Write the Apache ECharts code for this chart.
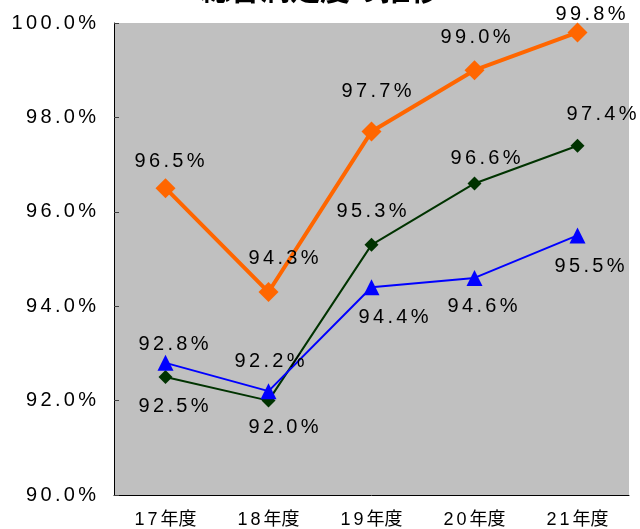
<!DOCTYPE html>
<html><head><meta charset="utf-8">
<script src="https://cdn.jsdelivr.net/npm/echarts@6/dist/echarts.min.js"></script>
<style>html,body{margin:0;padding:0;background:#fff;}#c{width:640px;height:529px;}</style>
</head><body><div id="c"></div>
<script>
var titleText = '総合満足度の推移';
var categories = ['17年度','18年度','19年度','20年度','21年度'];
var orangeValues = [96.5, 94.3, 97.7, 99.0, 99.8];
var greenValues = [92.5, 92.0, 95.3, 96.6, 97.4];
var blueValues = [92.8, 92.2, 94.4, 94.6, 95.5];
var yTicks = {min: 90, max: 100, interval: 2};

// label offsets (layout only)
var orangeOffsets = [[4,-27],[15,-34],[5,-40],[1,-33],[13,-18]];
var greenOffsets = [[8,29],[15,27],[0,-33],[11,-25],[24,-31]];
var blueOffsets = [[8,-18],[1,-30],[22,30],[8,29],[12,31]];

var SP = '\u2006';
function spaced(s){
  var out = '';
  for (var i=0;i<s.length;i++){
    out += s[i];
    if (i < s.length-1){
      var a = s.charCodeAt(i), b = s.charCodeAt(i+1);
      if (!(a > 0x2e80 && b > 0x2e80)) out += SP;
    }
  }
  return out;
}
var fontFam = '"Liberation Sans", Arial, "Noto Sans CJK JP", sans-serif';

function buildData(vals, offs){
  return vals.map(function(v,i){
    return {value: v, label: {offset: offs[i]}};
  });
}
function lbl(){
  return {show:true, position:'inside', align:'center', verticalAlign:'middle',
    color:'#000', fontSize:20, fontFamily: fontFam,
    formatter:function(p){ return spaced(p.value.toFixed(1)+'%'); }};
}

var chart = echarts.init(document.getElementById('c'), null, {renderer:'canvas'});
chart.setOption({
  animation:false,
  backgroundColor:'#ffffff',
  title:{text:titleText, left:'center', top:-31,
    textStyle:{fontSize:30, fontWeight:'bold', color:'#000', fontFamily:'"Noto Sans CJK JP", sans-serif'}},
  grid:{left:114, right:11, top:23, bottom:33, show:true, backgroundColor:'#C0C0C0', borderWidth:0},
  xAxis:{type:'category', data:categories, boundaryGap:true,
    axisLine:{lineStyle:{color:'#000', width:1}},
    axisTick:{inside:true, length:5, lineStyle:{color:'#404040'}},
    axisLabel:{color:'#000', fontSize:18, margin:16, fontFamily: fontFam,
      formatter:function(v){ return spaced(v); }},
    splitLine:{show:false}},
  yAxis:{type:'value', min:yTicks.min, max:yTicks.max, interval:yTicks.interval,
    axisLine:{show:true, lineStyle:{color:'#000', width:1}},
    axisTick:{show:true, inside:true, length:5, lineStyle:{color:'#404040'}},
    axisLabel:{color:'#000', fontSize:20, margin:18, fontFamily: fontFam,
      formatter:function(v){ return spaced(v.toFixed(1)+'%'); }},
    splitLine:{show:false}},
  series:[
    {type:'line', data:buildData(orangeValues, orangeOffsets), symbol:'diamond', symbolSize:20,
      itemStyle:{color:'#FF6600'}, lineStyle:{color:'#FF6600', width:4}, label:lbl(), z:3},
    {type:'line', data:buildData(greenValues, greenOffsets), symbol:'diamond', symbolSize:14,
      itemStyle:{color:'#003300'}, lineStyle:{color:'#003300', width:2}, label:lbl(), z:2},
    {type:'line', data:buildData(blueValues, blueOffsets), symbol:'triangle', symbolSize:16,
      itemStyle:{color:'#0000FF'}, lineStyle:{color:'#0000FF', width:2}, label:lbl(), z:2}
  ]
});
</script></body></html>
